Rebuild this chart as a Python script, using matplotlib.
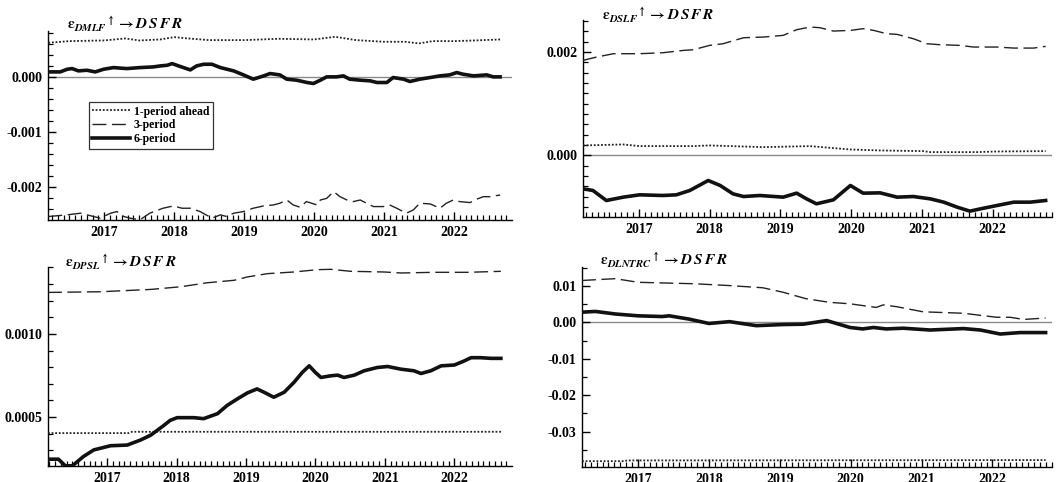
import numpy as np
import matplotlib
matplotlib.use("Agg")
import matplotlib.pyplot as plt
from matplotlib.ticker import MultipleLocator, FormatStrFormatter

plt.rcParams['font.family'] = ['Liberation Serif', 'DejaVu Serif']
plt.rcParams['font.weight'] = 'bold'
plt.rcParams['mathtext.fontset'] = 'stix'
plt.rcParams['axes.unicode_minus'] = False

# ---- panel 1: DMLF -> DSFR (values x1e-4)
p1_one_x = [2016.2, 2016.5, 2017.0, 2017.3, 2017.5, 2017.8, 2018.0, 2018.2, 2018.5, 2019.0,
            2019.5, 2020.0, 2020.3, 2020.6, 2021.0, 2021.3, 2021.5, 2021.7, 2022.0, 2022.3, 2022.66]
p1_one_y = [6.17, 6.47, 6.59, 6.95, 6.59, 6.77, 7.19, 6.95, 6.65, 6.65,
            6.89, 6.77, 7.25, 6.65, 6.35, 6.35, 6.05, 6.47, 6.47, 6.59, 6.77]
p1_three_x = [2016.2, 2016.47, 2016.66, 2016.94, 2017.09, 2017.18, 2017.28, 2017.37, 2017.51, 2017.65,
              2017.84, 2017.99, 2018.11, 2018.23, 2018.37, 2018.54, 2018.66, 2018.75, 2018.85, 2018.99,
              2019.13, 2019.28, 2019.42, 2019.51, 2019.61, 2019.70, 2019.80, 2019.89, 2020.04, 2020.09,
              2020.18, 2020.28, 2020.37, 2020.47, 2020.56, 2020.66, 2020.75, 2020.85, 2020.99, 2021.08,
              2021.18, 2021.32, 2021.42, 2021.51, 2021.66, 2021.80, 2021.89, 2021.99, 2022.08, 2022.23,
              2022.32, 2022.42, 2022.51, 2022.66]
p1_three_y = [-25.27, -24.97, -24.67, -25.57, -24.67, -24.37, -25.27, -25.57, -25.87, -24.67,
              -23.77, -23.35, -23.77, -23.77, -24.37, -25.57, -24.97, -25.27, -24.67, -24.37,
              -23.77, -23.35, -23.17, -22.87, -22.28, -23.17, -23.59, -22.57, -23.17, -22.28,
              -21.98, -20.78, -21.68, -22.28, -22.57, -22.28, -22.87, -23.47, -23.47, -23.17,
              -23.77, -24.67, -24.07, -22.87, -22.99, -23.77, -22.87, -22.28, -22.57, -22.75,
              -22.16, -21.68, -21.68, -21.38]
p1_six_x = [2016.2, 2016.37, 2016.47, 2016.54, 2016.63, 2016.75, 2016.87, 2016.99, 2017.13, 2017.32,
            2017.51, 2017.70, 2017.80, 2017.90, 2017.97, 2018.09, 2018.23, 2018.32, 2018.42, 2018.54,
            2018.66, 2018.85, 2018.99, 2019.13, 2019.28, 2019.37, 2019.51, 2019.61, 2019.75, 2019.90,
            2019.99, 2020.09, 2020.18, 2020.32, 2020.42, 2020.51, 2020.66, 2020.80, 2020.90, 2021.04,
            2021.13, 2021.28, 2021.37, 2021.51, 2021.66, 2021.80, 2021.94, 2022.04, 2022.13, 2022.28,
            2022.47, 2022.56, 2022.66]
p1_six_y = [0.90, 0.90, 1.38, 1.50, 1.08, 1.20, 0.90, 1.38, 1.68, 1.50,
            1.68, 1.80, 1.98, 2.10, 2.40, 1.86, 1.26, 1.98, 2.28, 2.28,
            1.68, 1.08, 0.36, -0.42, 0.18, 0.60, 0.36, -0.42, -0.60, -1.02,
            -1.20, -0.60, 0.0, 0.0, 0.18, -0.42, -0.60, -0.72, -1.02, -1.02,
            -0.12, -0.42, -0.84, -0.42, -0.12, 0.18, 0.36, 0.78, 0.48, 0.18,
            0.36, 0.0, 0.0]

# ---- panel 2: DSLF -> DSFR (values x1e-4)
p2_one_x = [2016.21, 2016.78, 2017.01, 2017.77, 2018.0, 2018.76, 2019.42, 2019.70, 2019.99, 2020.41,
            2021.02, 2021.12, 2021.78, 2022.06, 2022.75]
p2_one_y = [1.94, 2.13, 1.81, 1.81, 1.94, 1.61, 1.81, 1.48, 1.16, 0.97,
            0.84, 0.65, 0.65, 0.77, 0.84]
p2_three_x = [2016.21, 2016.40, 2016.64, 2017.01, 2017.34, 2017.63, 2017.77, 2018.0, 2018.19, 2018.48,
              2018.76, 2019.04, 2019.23, 2019.42, 2019.56, 2019.75, 2019.99, 2020.17, 2020.32, 2020.50,
              2020.65, 2020.88, 2021.07, 2021.26, 2021.54, 2021.73, 2022.06, 2022.30, 2022.58, 2022.75]
p2_three_y = [18.39, 19.03, 19.68, 19.68, 19.87, 20.32, 20.45, 21.29, 21.61, 22.77,
              22.90, 23.23, 24.32, 24.84, 24.71, 24.06, 24.19, 24.52, 24.19, 23.55,
              23.42, 22.58, 21.61, 21.42, 21.29, 20.97, 20.97, 20.77, 20.77, 21.10]
p2_six_x = [2016.21, 2016.35, 2016.54, 2016.78, 2017.01, 2017.34, 2017.53, 2017.72, 2017.98, 2018.15,
            2018.33, 2018.48, 2018.71, 2019.04, 2019.23, 2019.37, 2019.51, 2019.75, 2019.99, 2020.17,
            2020.41, 2020.65, 2020.88, 2021.12, 2021.31, 2021.50, 2021.68, 2021.83, 2022.06, 2022.30,
            2022.53, 2022.75]
p2_six_y = [-6.45, -6.77, -8.71, -8.06, -7.61, -7.74, -7.61, -6.77, -4.84, -5.81,
            -7.42, -7.94, -7.74, -8.06, -7.29, -8.39, -9.35, -8.58, -5.81, -7.29,
            -7.23, -8.06, -7.94, -8.39, -9.03, -10.0, -10.77, -10.32, -9.68, -9.03,
            -9.03, -8.71]

# ---- panel 3: DPSL -> DSFR (values x1e-4)
p3_one_x = [2016.15, 2017.31, 2017.36, 2022.67]
p3_one_y = [4.03, 4.03, 4.11, 4.11]
p3_three_x = [2016.15, 2016.90, 2017.63, 2018.06, 2018.44, 2018.83, 2019.02, 2019.31, 2019.69, 2020.03,
              2020.22, 2020.51, 2020.99, 2021.23, 2021.71, 2022.19, 2022.67]
p3_three_y = [12.50, 12.54, 12.68, 12.84, 13.08, 13.23, 13.43, 13.63, 13.73, 13.87,
              13.89, 13.77, 13.73, 13.67, 13.71, 13.71, 13.77]
p3_six_x = [2016.15, 2016.30, 2016.40, 2016.50, 2016.66, 2016.81, 2017.05, 2017.29, 2017.48, 2017.63,
            2017.82, 2017.91, 2018.01, 2018.25, 2018.39, 2018.59, 2018.73, 2018.88, 2019.02, 2019.16,
            2019.26, 2019.40, 2019.55, 2019.69, 2019.81, 2019.91, 2020.00, 2020.08, 2020.22, 2020.32,
            2020.41, 2020.56, 2020.70, 2020.89, 2021.04, 2021.23, 2021.42, 2021.52, 2021.66, 2021.81,
            2022.00, 2022.14, 2022.24, 2022.38, 2022.53, 2022.67]
p3_six_y = [2.46, 2.46, 2.06, 2.06, 2.62, 3.02, 3.27, 3.31, 3.61, 3.91,
            4.50, 4.80, 4.96, 4.96, 4.90, 5.20, 5.70, 6.10, 6.45, 6.69,
            6.49, 6.19, 6.49, 7.08, 7.68, 8.08, 7.68, 7.38, 7.48, 7.52,
            7.38, 7.52, 7.78, 7.98, 8.04, 7.88, 7.78, 7.62, 7.78, 8.08,
            8.13, 8.37, 8.57, 8.57, 8.53, 8.53]

# ---- panel 4: DLNTRC -> DSFR (values x1e-3)
p4_one_x = [2016.21, 2016.80, 2016.85, 2022.75]
p4_one_y = [-38.1, -38.1, -37.9, -37.8]
p4_three_x = [2016.21, 2016.68, 2017.0, 2017.8, 2018.29, 2018.76, 2019.04, 2019.37, 2019.70, 2019.99,
              2020.36, 2020.46, 2020.65, 2021.02, 2021.59, 2022.06, 2022.25, 2022.44, 2022.75]
p4_three_y = [11.5, 12.0, 11.0, 10.6, 10.1, 9.5, 8.3, 6.5, 5.5, 5.1,
              4.1, 4.8, 4.3, 2.9, 2.5, 1.4, 1.4, 0.8, 1.2]
p4_six_x = [2016.21, 2016.40, 2016.68, 2017.0, 2017.34, 2017.44, 2017.72, 2018.0, 2018.29, 2018.67,
            2019.04, 2019.33, 2019.66, 2019.99, 2020.17, 2020.32, 2020.50, 2020.74, 2021.12, 2021.59,
            2021.83, 2022.11, 2022.39, 2022.75]
p4_six_y = [2.8, 3.0, 2.3, 1.8, 1.6, 1.8, 0.9, -0.3, 0.2, -0.9,
            -0.6, -0.5, 0.5, -1.4, -1.8, -1.4, -1.8, -1.6, -2.1, -1.7,
            -2.1, -3.2, -2.8, -2.8]

labels = ['1-period ahead', '3-period', '6-period']
titles = [r'$\mathrm{\varepsilon}_{DMLF}{}^{\uparrow}\rightarrow D\,S\,F\,R$',
          r'$\mathrm{\varepsilon}_{DSLF}{}^{\uparrow}\rightarrow D\,S\,F\,R$',
          r'$\mathrm{\varepsilon}_{DPSL}{}^{\uparrow}\rightarrow D\,S\,F\,R$',
          r'$\mathrm{\varepsilon}_{DLNTRC}{}^{\uparrow}\rightarrow D\,S\,F\,R$']

W, H = 1058, 482
fig = plt.figure(figsize=(W / 100, H / 100), dpi=100)


def box(l, r, t, b):
    return [l / W, 1 - b / H, (r - l) / W, (b - t) / H]


panels = [
    dict(rect=box(48, 512, 31, 220), scale=1e-4, xlim=(2016.195, 2022.83), ylim=(0.00083, -0.00259),
         major=0.001, minor=0.0002, fmt='%.3f', zero=True,
         series=[(p1_one_x, p1_one_y), (p1_three_x, p1_three_y), (p1_six_x, p1_six_y)],
         title_xy=(67, 24)),
    dict(rect=box(583, 1052, 20, 217), scale=1e-4, xlim=(2016.21, 2022.84), ylim=(0.00262, -0.00119),
         major=0.002, minor=0.0002, fmt='%.3f', zero=True,
         series=[(p2_one_x, p2_one_y), (p2_three_x, p2_three_y), (p2_six_x, p2_six_y)],
         title_xy=(602, 15)),
    dict(rect=box(48, 512, 267, 466), scale=1e-4, xlim=(2016.15, 2022.83), ylim=(0.001403, 0.000205),
         major=0.0005, minor=0.0001, fmt='%.4f', zero=False,
         series=[(p3_one_x, p3_one_y), (p3_three_x, p3_three_y), (p3_six_x, p3_six_y)],
         title_xy=(65, 262)),
    dict(rect=box(582, 1052, 267, 467), scale=1e-3, xlim=(2016.21, 2022.84), ylim=(0.0152, -0.0397),
         major=0.01, minor=0.005, fmt='%.2f', zero=True,
         series=[(p4_one_x, p4_one_y), (p4_three_x, p4_three_y), (p4_six_x, p4_six_y)],
         title_xy=(600, 260)),
]

styles = [dict(color='#222222', lw=1.3, ls=(0, (1, 1))),
          dict(color='#222222', lw=1.0, ls=(0, (10, 4))),
          dict(color='#111111', lw=2.6, ls='-')]

for i, p in enumerate(panels):
    ax = fig.add_axes(p['rect'])
    if p['zero']:
        ax.axhline(0, color='#8a8a8a', lw=1.0, zorder=1)
    for (xs, ys), st, lab in zip(p['series'], styles, labels):
        ax.plot(xs, np.array(ys) * p['scale'], label=lab, zorder=3, **st)
    ax.set_xlim(*p['xlim'])
    ax.set_ylim(p['ylim'][1], p['ylim'][0])
    for s in ['top', 'right']:
        ax.spines[s].set_visible(False)
    for s in ['left', 'bottom']:
        ax.spines[s].set_linewidth(1.0)
    ax.xaxis.set_major_locator(MultipleLocator(1))
    ax.xaxis.set_minor_locator(MultipleLocator(1 / 12))
    ax.xaxis.set_major_formatter(FormatStrFormatter('%d'))
    ax.yaxis.set_major_locator(MultipleLocator(p['major']))
    ax.yaxis.set_minor_locator(MultipleLocator(p['minor']))
    ax.yaxis.set_major_formatter(FormatStrFormatter(p['fmt']))
    ax.tick_params(which='major', direction='in', length=6, width=1.0, labelsize=10, pad=4)
    ax.tick_params(which='minor', direction='in', length=3.5, width=0.9)
    ax.tick_params(axis='x', which='major', pad=4)
    fig.text(p['title_xy'][0] / W, 1 - p['title_xy'][1] / H, titles[i],
             fontsize=11, va='center', ha='left', fontweight='normal')
    if i == 0:
        leg = ax.legend(loc='upper left', bbox_to_anchor=(0.088, 0.624), borderaxespad=0,
                        fancybox=False, framealpha=1, edgecolor='#333333', fontsize=8.5,
                        handlelength=3.2, handletextpad=0.3, labelspacing=0.15,
                        borderpad=0.3)
        leg.get_frame().set_linewidth(0.9)

fig.savefig('out.png', dpi=100)
